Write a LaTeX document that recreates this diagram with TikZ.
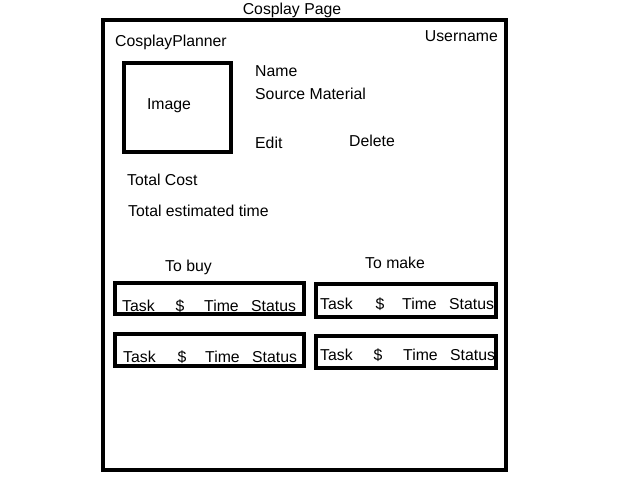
\documentclass[tikz,border=0pt]{standalone}
\usepackage{fontspec}
\setmainfont{Liberation Sans}
\begin{document}
\begin{tikzpicture}[x=1pt,y=-1pt,
  frame/.style={draw=black,line width=4pt},
  lbl/.style={inner sep=0pt,font=\fontsize{15.8}{18}\selectfont}]
\useasboundingbox (0,0) rectangle (640,480);

% page outline and header
\draw[frame] (103,20) rectangle (506,470);
\node[lbl,anchor=base] (title) at (292,14) {Cosplay Page};
\node[lbl,anchor=base west] (brand) at (115,46) {CosplayPlanner};
\node[lbl,anchor=base east] (user) at (498,41) {Username};

% picture placeholder and details
\draw[frame] (123.5,63) rectangle (230.5,151.5);
\node[lbl,anchor=base] (img) at (169,109) {Image};
\node[lbl,anchor=base west] (name) at (255,76) {Name};
\node[lbl,anchor=base west] (source) at (255,99) {Source Material};
\node[lbl,anchor=base west] (edit) at (255,148) {Edit};
\node[lbl,anchor=base west] (delete) at (349,146) {Delete};
\node[lbl,anchor=base west] (cost) at (127,185) {Total Cost};
\node[lbl,anchor=base west] (time) at (128,216) {Total estimated time};

% task lists
\node[lbl,anchor=base west] (buy) at (165,271) {To buy};
\node[lbl,anchor=base west] (make) at (365,268) {To make};

% box corners, baseline, Task x, $ centre x, Time x, Status x
\foreach \i/\xa/\ya/\xb/\yb/\bl/\tk/\dl/\tm/\st in {
  a/115/283/304/314/311/122/180/204/251,
  b/316/284/496/317/309/320/380/402/449,
  c/115/334/304/366/362/123/182/205/252,
  d/316/336/496/368/360/320/378/403/450}{
  \draw[frame] (\xa,\ya) rectangle (\xb,\yb);
  \node[lbl,anchor=base west] (task\i) at (\tk,\bl) {Task};
  \node[lbl,anchor=base] (cost\i) at (\dl,\bl) {\$};
  \node[lbl,anchor=base west] (time\i) at (\tm,\bl) {Time};
  \node[lbl,anchor=base west] (status\i) at (\st,\bl) {Status};
}
\end{tikzpicture}
\end{document}
